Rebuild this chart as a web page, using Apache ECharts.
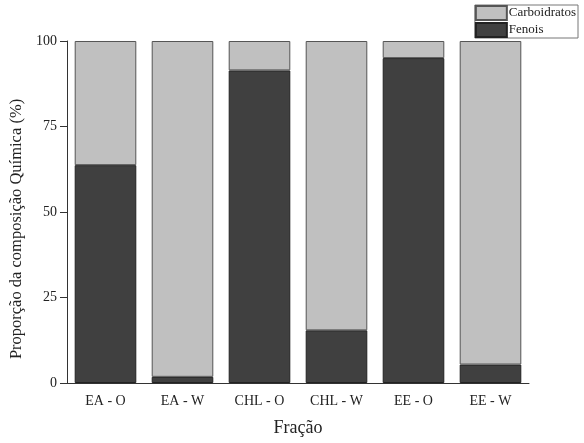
<!DOCTYPE html>
<html><head><meta charset="utf-8">
<script src="https://cdn.jsdelivr.net/npm/echarts@6/dist/echarts.min.js"></script>
<style>html,body{margin:0;padding:0;background:#fff}#c{width:584px;height:443px}</style>
</head><body><div id="c"></div>
<script>
const categories = ['EA - O','EA - W','CHL - O','CHL - W','EE - O','EE - W'];
const fenois = [63.7, 1.8, 91.4, 15.4, 95.0, 5.4];
const carboidratos = [36.3, 98.2, 8.6, 84.6, 5.0, 94.6];
const yTicks = [0, 25, 50, 75, 100];

const font = "'Liberation Serif', 'DejaVu Serif', serif";
const chart = echarts.init(document.getElementById('c'), null, {renderer:'canvas'});
chart.setOption({
  animation:false,
  textStyle:{fontFamily:font},
  legend:{
    data:['Carboidratos','Fenois'],
    orient:'vertical', right:6, top:5,
    borderColor:'#777', borderWidth:1, padding:[0,2,0,0], itemGap:1,
    itemWidth:31, itemHeight:14, icon:'rect',
    textStyle:{fontFamily:font, fontSize:13, color:'#222', padding:[0,0,0,-3], lineHeight:14}
  },
  grid:{left:67, right:55, top:41, bottom:60},
  xAxis:[{
    type:'category', data:categories,
    axisLine:{lineStyle:{color:'#333', width:1}},
    axisTick:{alignWithLabel:true, length:6, lineStyle:{color:'#333'}},
    axisLabel:{fontFamily:font, fontSize:14, color:'#222', margin:11},
    name:'Fração', nameLocation:'middle', nameGap:36,
    nameTextStyle:{fontFamily:font, fontSize:18, color:'#222'}
  },{
    type:'category', data:categories, position:'bottom',
    axisLine:{show:false}, axisLabel:{show:false},
    axisTick:{alignWithLabel:false, length:3, lineStyle:{color:'#333'}}
  }],
  yAxis:{
    type:'value', min:0, max:100, interval:25,
    axisLine:{show:true, lineStyle:{color:'#333', width:1}},
    axisTick:{show:true, length:7, lineStyle:{color:'#333'}},
    splitLine:{show:false},
    axisLabel:{fontFamily:font, fontSize:14, color:'#222', margin:10,
      formatter:v=>yTicks.includes(v)?String(v):''},
    name:'Proporção da composição Química (%)', nameLocation:'middle', nameGap:40,
    nameTextStyle:{fontFamily:font, fontSize:16.5, color:'#222', padding:[0,34,0,0]}
  },
  series:[{
    name:'Fenois', type:'bar', stack:'a', data:fenois, barWidth:'80%', xAxisIndex:0,
    itemStyle:{color:'#404040', borderColor:'#222', borderWidth:1}
  },{
    name:'Carboidratos', type:'bar', stack:'a', data:carboidratos, barWidth:'80%', xAxisIndex:0,
    itemStyle:{color:'#c0c0c0', borderColor:'#555', borderWidth:1}
  }]
});
</script></body></html>
